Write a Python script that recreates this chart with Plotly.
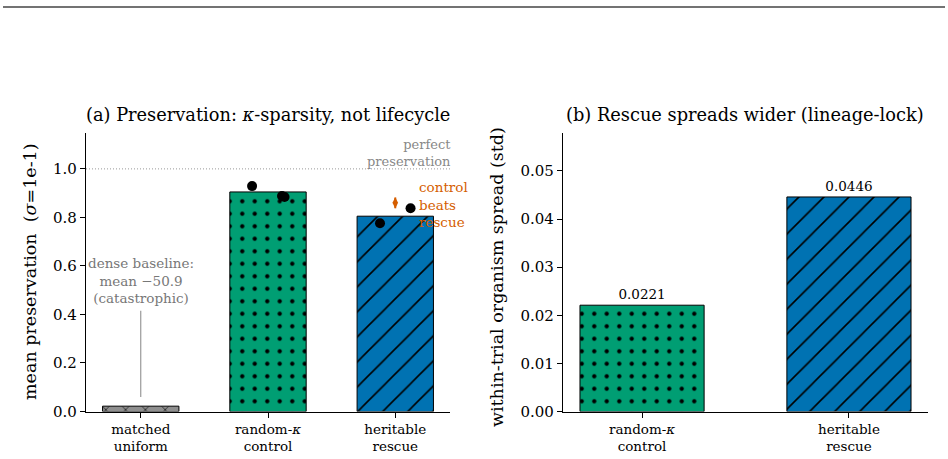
import plotly.graph_objects as go

# ---- data ----
cats_a = ["matched<br>uniform", "random-<i>κ</i><br>control", "heritable<br>rescue"]
means_a = [0.022, 0.905, 0.805]
colors_a = ["#8f8f8f", "#009E73", "#0072B2"]
shapes_a = ["x", ".", "/"]

rand_pts = [0.929, 0.888, 0.884]
rand_off = [-0.125, 0.11, 0.13]
her_pts = [0.776, 0.838]
her_off = [-0.12, 0.12]

ctrl_mean = 0.860
ctrl_err = 0.022

cats_b = ["random-<i>κ</i><br>control", "heritable<br>rescue"]
vals_b = [0.0221, 0.0446]
colors_b = ["#009E73", "#0072B2"]
shapes_b = [".", "/"]

FONT = "DejaVu Serif"
W, H = 948, 459

def px_x(px):
    return px / W

def px_y(py):
    return 1 - py / H

PAT = {".": dict(size=12.5, solidity=0.09),
       "/": dict(size=17.7, solidity=0.09),
       "x": dict(size=14, solidity=0.09)}

fig = go.Figure()

# panel a bars
for i in range(3):
    fig.add_trace(go.Bar(
        x=[i], y=[means_a[i]], width=0.6, xaxis="x", yaxis="y",
        marker=dict(color=colors_a[i], line=dict(color="black", width=1),
                    pattern=dict(shape=shapes_a[i], fgcolor="black", bgcolor=colors_a[i],
                                 fgopacity=1, fillmode="overlay", **PAT[shapes_a[i]])),
        showlegend=False, hoverinfo="skip"))

fig.add_trace(go.Scatter(x=[1 + o for o in rand_off], y=rand_pts, mode="markers",
                         marker=dict(color="black", size=10), xaxis="x", yaxis="y",
                         showlegend=False))
fig.add_trace(go.Scatter(x=[2 + o for o in her_off], y=her_pts, mode="markers",
                         marker=dict(color="black", size=10), xaxis="x", yaxis="y",
                         showlegend=False))
fig.add_trace(go.Scatter(x=[2], y=[ctrl_mean], mode="markers",
                         error_y=dict(type="data", array=[ctrl_err], color="#D55E00", thickness=2, width=0),
                         marker=dict(color="#D55E00", size=8, symbol="diamond-tall"),
                         xaxis="x", yaxis="y", showlegend=False))

# perfect preservation line
fig.add_trace(go.Scatter(x=[-0.43, 2.43], y=[1.0, 1.0], mode="lines",
                         line=dict(color="#999999", width=1, dash="1px,2px"),
                         xaxis="x", yaxis="y", showlegend=False))
# dense baseline pointer
fig.add_trace(go.Scatter(x=[0, 0], y=[0.06, 0.415], mode="lines",
                         line=dict(color="#999999", width=1.2),
                         xaxis="x", yaxis="y", showlegend=False))

# panel b bars
for i in range(2):
    fig.add_trace(go.Bar(
        x=[i], y=[vals_b[i]], width=0.6, xaxis="x2", yaxis="y2",
        marker=dict(color=colors_b[i], line=dict(color="black", width=1),
                    pattern=dict(shape=shapes_b[i], fgcolor="black", bgcolor=colors_b[i],
                                 fgopacity=1, fillmode="overlay", **PAT[shapes_b[i]])),
        text=[f"{vals_b[i]:.4f}"], textposition="outside",
        textfont=dict(family=FONT, size=13.5, color="black"),
        cliponaxis=False, showlegend=False, hoverinfo="skip"))

line_common = dict(showline=True, linecolor="black", linewidth=1.2, ticks="outside",
                   ticklen=5, tickwidth=1.2, tickcolor="black", showgrid=False, zeroline=False,
                   automargin=False)
ytick_font = dict(family=FONT, size=15, color="black")
xtick_font = dict(family=FONT, size=13.5, color="black")

ydom = [px_y(411.5), px_y(132.5)]

fig.update_layout(
    width=W, height=H, margin=dict(l=0, r=0, t=0, b=0),
    plot_bgcolor="white", paper_bgcolor="white", barmode="overlay",
    xaxis=dict(domain=[px_x(86), px_x(450)], range=[-0.43, 2.43],
               tickvals=[0, 1, 2], ticktext=cats_a, anchor="y",
               tickfont=xtick_font, **line_common),
    yaxis=dict(domain=ydom, range=[0, 1.15], tickvals=[0, 0.2, 0.4, 0.6, 0.8, 1.0],
               tickformat=".1f", anchor="x", tickfont=ytick_font, **line_common),
    xaxis2=dict(domain=[px_x(563), px_x(928)], range=[-0.382, 1.382],
                tickvals=[0, 1], ticktext=cats_b, anchor="y2",
                tickfont=xtick_font, **line_common),
    yaxis2=dict(domain=ydom, range=[0, 0.058], tickvals=[0, 0.01, 0.02, 0.03, 0.04, 0.05],
                tickformat=".2f", anchor="x2", tickfont=ytick_font, **line_common),
)

anns = [
    dict(text="(a) Preservation: <i>κ</i>-sparsity, not lifecycle", x=px_x(268), y=px_y(115),
         font=dict(family=FONT, size=17.8, color="black")),
    dict(text="(b) Rescue spreads wider (lineage-lock)", x=px_x(745), y=px_y(115),
         font=dict(family=FONT, size=17.8, color="black")),
    dict(text="perfect<br>preservation", x=px_x(453), y=px_y(153), xanchor="right", align="right",
         font=dict(family=FONT, size=13, color="#888888")),
    dict(text="control<br>beats<br>rescue", x=px_x(417), y=px_y(204), xanchor="left", align="left",
         font=dict(family=FONT, size=13.5, color="#D55E00")),
    dict(text="dense baseline:<br>mean −50.9<br>(catastrophic)", x=px_x(141), y=px_y(280),
         align="center", font=dict(family=FONT, size=13.5, color="#777777")),
    dict(text="mean preservation  (<i>σ</i>=1e-1)", x=px_x(30), y=px_y(272), textangle=-90,
         font=dict(family=FONT, size=17.5, color="black")),
    dict(text="within-trial organism spread (std)", x=px_x(497), y=px_y(277), textangle=-90,
         font=dict(family=FONT, size=17.5, color="black")),
]
for a in anns:
    a.setdefault("xanchor", "center")
    fig.add_annotation(xref="paper", yref="paper", yanchor="middle", showarrow=False, **a)

fig.add_shape(type="line", xref="paper", yref="paper", x0=px_x(3), x1=px_x(945),
              y0=px_y(7), y1=px_y(7), line=dict(color="#444444", width=1.5))

fig.write_html("out.html")
